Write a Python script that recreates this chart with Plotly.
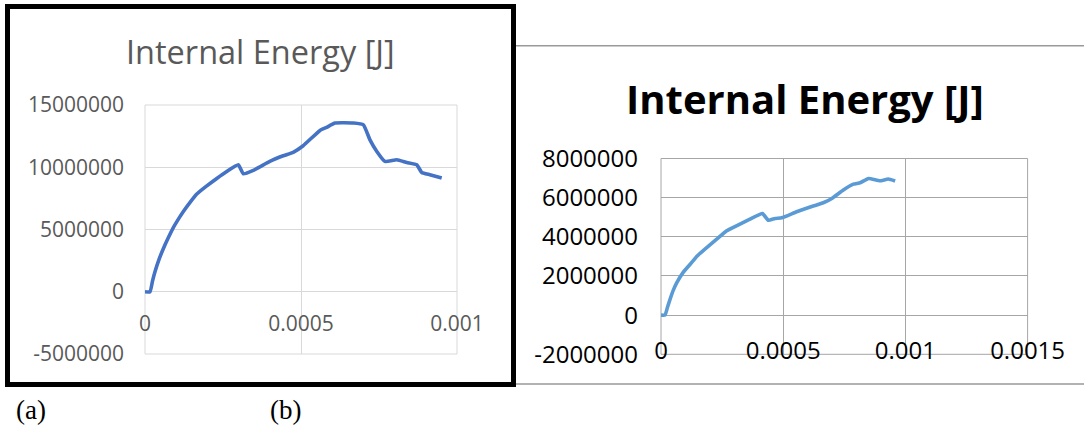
import plotly.graph_objects as go

W, H = 1084, 425

# ---- panel (a): internal energy vs time ----
time_a = [0, 0.000016, 0.000024, 0.000032, 0.000045, 0.0000587, 0.000075, 0.0000908,
          0.00011, 0.000123, 0.000145, 0.000166, 0.000198, 0.00023, 0.000262, 0.000299,
          0.000315, 0.000347, 0.0004, 0.000443, 0.000475, 0.000507, 0.000561,
          0.000582, 0.000609, 0.000668, 0.0007, 0.000721, 0.000743, 0.000769,
          0.000807, 0.000839, 0.000871, 0.000887, 0.000913, 0.000951]
energy_a = [0, 0, 0.85e6, 1.6e6, 2.6e6, 3.45e6, 4.35e6, 5.15e6,
            5.95e6, 6.45e6, 7.2e6, 7.85e6, 8.5e6, 9.1e6, 9.66e6, 10.2e6,
            9.48e6, 9.75e6, 10.47e6, 10.92e6, 11.2e6, 11.73e6, 12.96e6,
            13.2e6, 13.55e6, 13.55e6, 13.4e6, 12.2e6, 11.27e6, 10.47e6,
            10.6e6, 10.38e6, 10.2e6, 9.58e6, 9.4e6, 9.13e6]
yticks_a = [-5000000, 0, 5000000, 10000000, 15000000]
ylabels_a = ["-5000000", "0", "5000000", "10000000", "15000000"]
xticks_a = [0, 0.0005, 0.001]
xlabels_a = ["0", "0.0005", "0.001"]

# ---- panel (b): internal energy vs time ----
time_b = [0, 0.0000164, 0.0000265, 0.0000368, 0.0000504, 0.0000641, 0.0000914, 0.000132,
          0.000146, 0.000187, 0.000228, 0.000269, 0.000323, 0.000364, 0.000415,
          0.000439, 0.000467, 0.000494, 0.000555, 0.000623, 0.000664, 0.000699,
          0.000746, 0.000787, 0.000815, 0.000849, 0.000896, 0.00093, 0.000958]
energy_b = [0, 0, 0.4e6, 0.8e6, 1.28e6, 1.65e6, 2.2e6, 2.78e6,
            3.0e6, 3.45e6, 3.88e6, 4.31e6, 4.65e6, 4.9e6, 5.19e6,
            4.85e6, 4.94e6, 4.97e6, 5.28e6, 5.57e6, 5.74e6, 5.96e6,
            6.39e6, 6.69e6, 6.76e6, 6.98e6, 6.86e6, 6.95e6, 6.85e6]
yticks_b = [-2000000, 0, 2000000, 4000000, 6000000, 8000000]
ylabels_b = ["-2000000", "0", "2000000", "4000000", "6000000", "8000000"]
xticks_b = [0, 0.0005, 0.001, 0.0015]
xlabels_b = ["0", "0.0005", "0.001", "0.0015"]

TITLE = "Internal Energy [J]"


def px(x):
    return x / W


def py(y):
    return 1 - y / H


# plot-area rectangles in pixels (left, top, right, bottom)
A_BOX = (145, 105, 457, 354)
B_BOX = (661, 158.5, 1027.6, 354.3)


def zero_pos(box, lo, hi):
    left, top, right, bottom = box
    ypx = bottom - (0 - lo) / (hi - lo) * (bottom - top)
    return py(ypx)


fig = go.Figure()
fig.add_trace(go.Scatter(x=time_a, y=energy_a, mode="lines", xaxis="x", yaxis="y",
                         line=dict(color="#4472C4", width=3.6, shape="spline", smoothing=0.4),
                         showlegend=False))
fig.add_trace(go.Scatter(x=time_b, y=energy_b, mode="lines", xaxis="x2", yaxis="y2",
                         line=dict(color="#5B9BD5", width=3.6, shape="spline", smoothing=0.4),
                         showlegend=False))

font_a = dict(family="Open Sans", size=21, color="#595959")
font_b = dict(family="Open Sans", size=24, color="#000000")

fig.update_layout(
    width=W, height=H,
    margin=dict(l=0, r=0, t=0, b=0, pad=0, autoexpand=False),
    paper_bgcolor="white", plot_bgcolor="white",
    xaxis=dict(domain=[px(A_BOX[0]), px(A_BOX[2])], range=[0, 0.001],
               anchor="free", position=zero_pos(A_BOX, -5e6, 15e6),
               tickvals=xticks_a, ticktext=xlabels_a, tickfont=font_a,
               showgrid=True, gridcolor="#D9D9D9", gridwidth=1,
               zeroline=False, showline=False, ticks="", ticklabelstandoff=17,
               automargin=False),
    yaxis=dict(domain=[py(A_BOX[3]), py(A_BOX[1])], range=[-5e6, 15e6],
               anchor="x", tickvals=yticks_a, ticktext=ylabels_a, tickfont=font_a,
               showgrid=True, gridcolor="#D9D9D9", gridwidth=1,
               zeroline=False, showline=False, ticks="", ticklabelstandoff=20,
               automargin=False),
    xaxis2=dict(domain=[px(B_BOX[0]), px(B_BOX[2])], range=[0, 0.0015],
                anchor="free", position=zero_pos(B_BOX, -2e6, 8e6),
                tickvals=xticks_b, ticktext=xlabels_b, tickfont=font_b,
                showgrid=True, gridcolor="#A6A6A6", gridwidth=1,
                zeroline=False, showline=False, ticks="", ticklabelstandoff=19,
                automargin=False),
    yaxis2=dict(domain=[py(B_BOX[3]), py(B_BOX[1])], range=[-2e6, 8e6],
                anchor="x2", tickvals=yticks_b, ticktext=ylabels_b, tickfont=font_b,
                showgrid=True, gridcolor="#A6A6A6", gridwidth=1,
                zeroline=False, showline=False, ticks="", ticklabelstandoff=22,
                automargin=False),
)

# plot-area frames
fig.add_shape(type="rect", xref="x domain", yref="y domain", x0=0, x1=1, y0=0, y1=1,
              line=dict(color="#D9D9D9", width=1), layer="below")
fig.add_shape(type="rect", xref="x2 domain", yref="y2 domain", x0=0, x1=1, y0=0, y1=1,
              line=dict(color="#A6A6A6", width=1), layer="below")

# outer frame lines of panel (b)
for yy in (45.7, 384):
    fig.add_shape(type="line", xref="paper", yref="paper",
                  x0=px(515), x1=1, y0=py(yy), y1=py(yy),
                  line=dict(color="#999999", width=1.5))

# black frame around panel (a)
fig.add_shape(type="rect", xref="paper", yref="paper",
              x0=px(7.5), x1=px(513.5), y0=py(384.5), y1=py(6.5),
              line=dict(color="black", width=5))

# chart titles
fig.add_annotation(text=TITLE, xref="paper", yref="paper", x=px(260.5), y=py(51),
                   showarrow=False, xanchor="center", yanchor="middle",
                   font=dict(family="Open Sans", size=32.5, color="#595959"))
fig.add_annotation(text="<b>" + TITLE + "</b>", xref="paper", yref="paper",
                   x=px(804.7), y=py(98), showarrow=False,
                   xanchor="center", yanchor="middle",
                   font=dict(family="Open Sans", size=40, color="#000000"))

# panel letters
for label, cx in (("(a)", 31), ("(b)", 285.5)):
    fig.add_annotation(text=label, xref="paper", yref="paper", x=px(cx), y=py(410),
                       showarrow=False, xanchor="center", yanchor="middle",
                       font=dict(family="Liberation Serif", size=27, color="#000000"))

fig.write_html("out.html")
